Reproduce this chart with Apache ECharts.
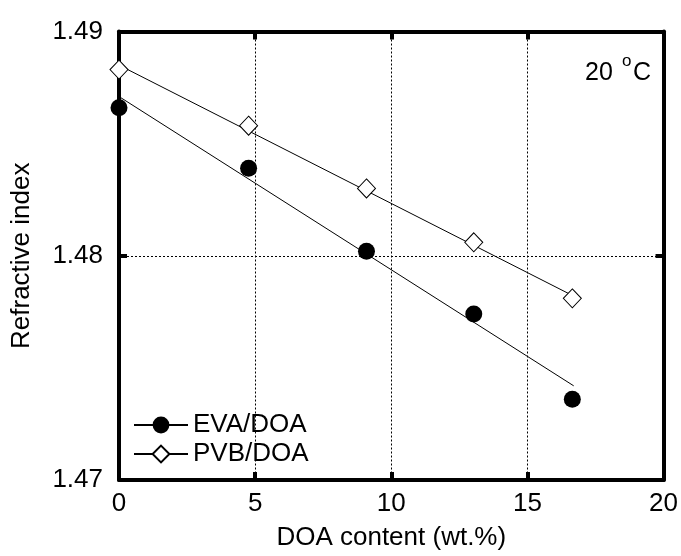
<!DOCTYPE html>
<html>
<head>
<meta charset="utf-8">
<script src="https://cdn.jsdelivr.net/npm/echarts@6/dist/echarts.min.js"></script>
<style>html,body{margin:0;padding:0;background:#fff;}#c{width:681px;height:556px;}</style>
</head>
<body>
<div id="c"></div>
<script>
// ---- data ----
var doaContent = [0, 4.76, 9.09, 13.03, 16.65];
var evaIndex   = [1.4866, 1.4839, 1.4802, 1.4774, 1.4736];
var pvbIndex   = [1.4883, 1.4858, 1.4830, 1.4806, 1.4781];
// fitted straight lines (end points)
var fitX   = [0, 16.7];
var evaFit = [1.4871, 1.4742];
var pvbFit = [1.4885, 1.4782];
var xTicks = [0, 5, 10, 15, 20];
var yTicks = [1.47, 1.48, 1.49];
var seriesNames = ['EVA/DOA', 'PVB/DOA'];
var tempParts = ['20', 'o', 'C'];

function pairs(xs, ys){ return xs.map(function(x,i){ return [x, ys[i]]; }); }

var FONT = '"Liberation Sans", Arial, Helvetica, sans-serif';
var chart = echarts.init(document.getElementById('c'), null, {renderer:'canvas'});
var axisLine = {show:true, onZero:false, lineStyle:{color:'#000', width:4}};
var tick = {show:true, inside:true, length:8, lineStyle:{color:'#000', width:4}};
var split = {show:true, lineStyle:{color:'#000', width:1, type:[2,2]}};

chart.setOption({
  animation:false,
  backgroundColor:'#fff',
  grid:{left:119, right:15.5, top:31.5, bottom:73, containLabel:false},
  xAxis:[{
    type:'value', min:xTicks[0], max:xTicks[xTicks.length-1], interval:5,
    axisLine:axisLine, axisTick:tick, splitLine:split,
    axisLabel:{color:'#000', fontSize:26, fontFamily:FONT, margin:11},
    name:'DOA content (wt.%)', nameLocation:'middle', nameGap:45,
    nameTextStyle:{color:'#000', fontSize:26, fontFamily:FONT}
  },{
    type:'value', position:'top', min:xTicks[0], max:xTicks[xTicks.length-1], interval:5,
    axisLine:axisLine, axisTick:tick, splitLine:{show:false}, axisLabel:{show:false}
  }],
  yAxis:[{
    type:'value', min:yTicks[0], max:yTicks[yTicks.length-1], interval:0.01,
    axisLine:axisLine, axisTick:tick, splitLine:split,
    axisLabel:{color:'#000', fontSize:26, fontFamily:FONT, margin:16,
      formatter:function(v){ return v.toFixed(2); }},
    name:'Refractive index', nameLocation:'middle', nameGap:84, nameRotate:90,
    nameTextStyle:{color:'#000', fontSize:26, fontFamily:FONT}
  },{
    type:'value', position:'right', min:yTicks[0], max:yTicks[yTicks.length-1], interval:0.01,
    axisLine:axisLine, axisTick:tick, splitLine:{show:false}, axisLabel:{show:false}
  }],
  legend:{
    orient:'vertical', left:128, top:407, itemWidth:54, itemHeight:21, itemGap:3,
    selectedMode:false,
    data:seriesNames,
    textStyle:{color:'#000', fontSize:26, fontFamily:FONT, lineHeight:26, padding:[0,0,0,0]}
  },
  graphic:[
    {type:'text', x:585, y:73, z:100,
      style:{text:tempParts[0], fill:'#000', font:'25px ' + FONT, textAlign:'left', textVerticalAlign:'middle'}},
    {type:'text', x:622, y:61, z:100,
      style:{text:tempParts[1], fill:'#000', font:'17px ' + FONT, textAlign:'left', textVerticalAlign:'middle'}},
    {type:'text', x:633, y:73, z:100,
      style:{text:tempParts[2], fill:'#000', font:'25px ' + FONT, textAlign:'left', textVerticalAlign:'middle'}}
  ],
  series:[{
    name:seriesNames[0], type:'line', data:pairs(fitX, evaFit),
    symbol:'circle', showSymbol:false, silent:true,
    itemStyle:{color:'#000'}, lineStyle:{color:'#000', width:1}, z:2
  },{
    name:seriesNames[1], type:'line', data:pairs(fitX, pvbFit),
    symbol:'diamond', showSymbol:false, silent:true,
    itemStyle:{color:'#fff', borderColor:'#000', borderWidth:1}, lineStyle:{color:'#000', width:1}, z:2
  },{
    name:'EVA/DOA data', type:'scatter', data:pairs(doaContent, evaIndex),
    symbol:'circle', symbolSize:17, itemStyle:{color:'#000', opacity:1}, z:5, silent:true
  },{
    name:'PVB/DOA data', type:'scatter', data:pairs(doaContent, pvbIndex),
    symbol:'diamond', symbolSize:[18,19],
    itemStyle:{color:'#fff', borderColor:'#000', borderWidth:1, opacity:1}, z:5, silent:true
  }]
});
</script>
</body>
</html>
